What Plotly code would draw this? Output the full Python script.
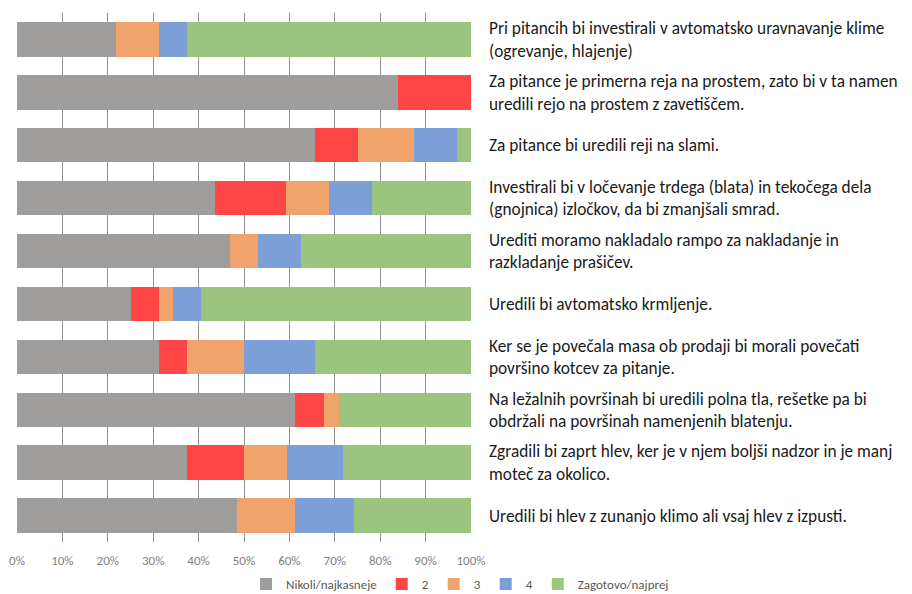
import plotly.graph_objects as go

categories = [
    "Pri pitancih bi investirali v avtomatsko uravnavanje klime<br>(ogrevanje, hlajenje)",
    "Za pitance je primerna reja na prostem, zato bi v ta namen<br>uredili rejo na prostem z zavetiščem.",
    "Za pitance bi uredili reji na slami.",
    "Investirali bi v ločevanje trdega (blata) in tekočega dela<br>(gnojnica) izločkov, da bi zmanjšali smrad.",
    "Urediti moramo nakladalo rampo za nakladanje in<br>razkladanje prašičev.",
    "Uredili bi avtomatsko krmljenje.",
    "Ker se je povečala masa ob prodaji bi morali povečati<br>površino kotcev za pitanje.",
    "Na ležalnih površinah bi uredili polna tla, rešetke pa bi<br>obdržali na površinah namenjenih blatenju.",
    "Zgradili bi zaprt hlev, ker je v njem boljši nadzor in je manj<br>moteč za okolico.",
    "Uredili bi hlev z zunanjo klimo ali vsaj hlev z izpusti.",
]

series_names = ["Nikoli/najkasneje", "2", "3", "4", "Zagotovo/najprej"]

nikoli = [21.9, 83.9, 65.6, 43.7, 46.9, 25.0, 31.2, 61.3, 37.5, 48.4]
s2 = [0.0, 16.1, 9.4, 15.6, 0.0, 6.2, 6.3, 6.4, 12.5, 0.0]
s3 = [9.4, 0.0, 12.5, 9.4, 6.2, 3.1, 12.5, 3.2, 9.4, 12.9]
s4 = [6.2, 0.0, 9.4, 9.4, 9.4, 6.3, 15.6, 0.0, 12.5, 12.9]
zagotovo = [62.5, 0.0, 3.1, 21.9, 37.5, 59.4, 34.4, 29.0, 28.1, 25.8]

colors = ["#9e9d9b", "#ff4646", "#f0a36b", "#7c9fd8", "#9bc47f"]

tick_vals = [0, 10, 20, 30, 40, 50, 60, 70, 80, 90, 100]
tick_text = ["0%", "10%", "20%", "30%", "40%", "50%", "60%", "70%", "80%", "90%", "100%"]

fig = go.Figure()
for name, vals, col in zip(series_names, [nikoli, s2, s3, s4, zagotovo], colors):
    fig.add_trace(go.Bar(
        y=categories, x=vals, name=name, orientation="h",
        marker=dict(color=col, line=dict(width=0)),
    ))

fig.update_layout(
    barmode="stack",
    bargap=0.35,
    width=904, height=586,
    margin=dict(l=9, r=441, t=5, b=52, autoexpand=False),
    paper_bgcolor="white",
    plot_bgcolor="white",
    font=dict(family="Carlito, Lato, sans-serif", color="#262626"),
    legend=dict(
        orientation="h",
        xref="container", x=0.5, xanchor="center",
        yref="container", y=0.017, yanchor="middle",
        font=dict(size=13, color="#595959"),
        itemwidth=30, traceorder="normal",
        tracegroupgap=0,
    ),
    showlegend=True,
)
fig.update_xaxes(
    range=[0, 100], tickvals=tick_vals, ticktext=tick_text,
    showgrid=True, gridcolor="rgba(110,110,110,0.75)", gridwidth=1,
    zeroline=False, showline=False, ticks="",
    tickfont=dict(size=13, color="#7f7f7f"),
    ticklabelstandoff=9,
    layer="above traces",
    automargin=False,
    fixedrange=True,
)
fig.update_yaxes(
    side="right", autorange="reversed", type="category",
    showgrid=False, showline=False, ticks="",
    tickfont=dict(size=17.3, color="#1a1a1a"),
    ticklabelstandoff=17,
    automargin=False,
    fixedrange=True,
)

fig.write_html("out.html")
